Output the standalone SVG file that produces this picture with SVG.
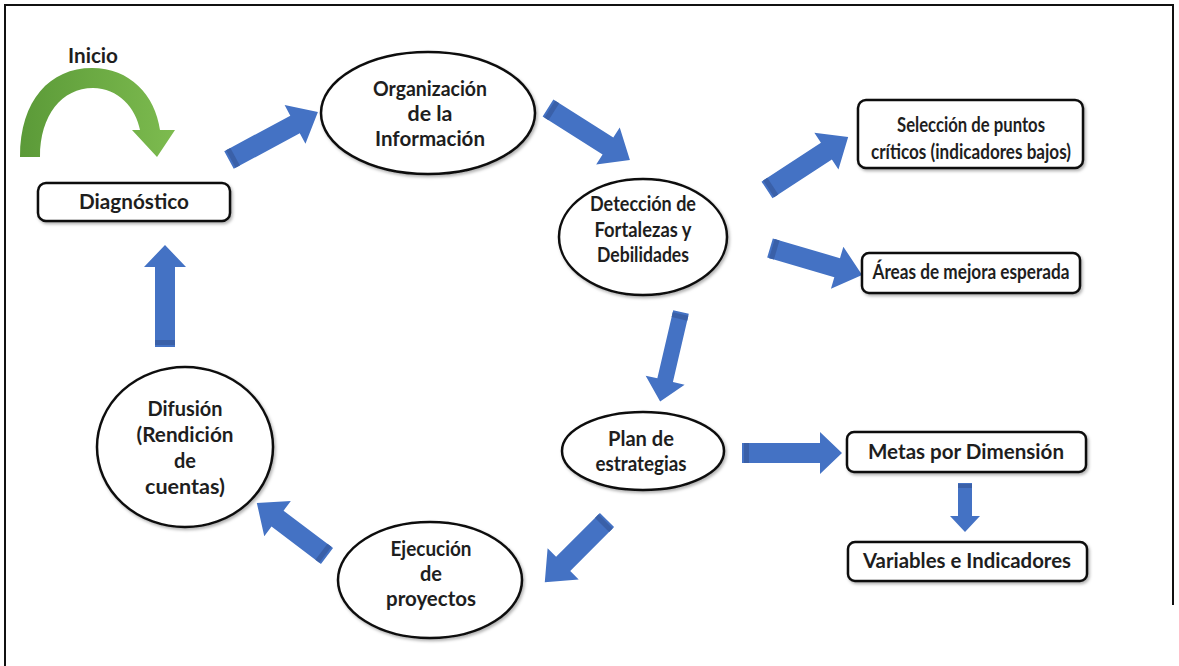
<svg xmlns="http://www.w3.org/2000/svg" width="1179" height="666" viewBox="0 0 1179 666">
<style>
.t{font-family:Lato,"Liberation Sans",sans-serif;font-weight:bold;font-size:20px;fill:#1e1e1e;text-anchor:middle}
.n{fill:#fff;stroke:#111;stroke-width:2.5}
.a{fill:#4472C4}
.d{fill:#3A60A8}
</style>
<defs>
<filter id="sh" x="-10%" y="-10%" width="120%" height="130%">
<feDropShadow dx="1.5" dy="2" stdDeviation="1.5" flood-color="#000" flood-opacity="0.3"/>
</filter>
<linearGradient id="g" x1="0" y1="0" x2="1" y2="0">
<stop offset="0" stop-color="#5B9A38"/>
<stop offset="1" stop-color="#7DBB4F"/>
</linearGradient>
</defs>
<rect width="1179" height="666" fill="#fff"/>
<path d="M5,666 V5 H1173 V605" fill="none" stroke="#111" stroke-width="2"/>

<g id="inicio">
<path d="M20,157 C20,100 50,68 92,68 C130,68 155,95 160,130 L175,130 L157,157 L132,130 L140,130 C136,108 118,88 93,88 C62,88 40,115 40,157 Z" fill="url(#g)"/>
<text class="t" x="93" y="63" textLength="50" lengthAdjust="spacingAndGlyphs">Inicio</text>
</g>

<g id="connectors">
<g transform="translate(229,160) rotate(-28.3)"><polygon class="a" points="0,-10 75,-10 75,-22 101,0 75,22 75,10 0,10"/><rect class="d" x="2" y="-10" width="5" height="20"/></g>
<g transform="translate(548,108) rotate(32.4)"><polygon class="a" points="0,-10 71,-10 71,-22 97,0 71,22 71,10 0,10"/><rect class="d" x="2" y="-10" width="5" height="20"/></g>
<g transform="translate(767,190) rotate(-33.2)"><polygon class="a" points="0,-10 71,-10 71,-22 97,0 71,22 71,10 0,10"/><rect class="d" x="2" y="-10" width="5" height="20"/></g>
<g transform="translate(770,248) rotate(16.4)"><polygon class="a" points="0,-10 70,-10 70,-22 96,0 70,22 70,10 0,10"/><rect class="d" x="2" y="-10" width="5" height="20"/></g>
<g transform="translate(681,312) rotate(103.1)"><polygon class="a" points="0,-8 70,-8 70,-20 92,0 70,20 70,8 0,8"/><rect class="d" x="2" y="-8" width="5" height="16"/></g>
<g transform="translate(742,453)"><polygon class="a" points="0,-10 78,-10 78,-21 100,0 78,21 78,10 0,10"/><rect class="d" x="2" y="-10" width="5" height="20"/></g>
<g transform="translate(965,483) rotate(90)"><polygon class="a" points="0,-7 33,-7 33,-15 49,0 33,15 33,7 0,7"/><rect class="d" x="1" y="-7" width="4" height="14"/></g>
<g transform="translate(607,520) rotate(135)"><polygon class="a" points="0,-10 62,-10 62,-22 88,0 62,22 62,10 0,10"/><rect class="d" x="2" y="-10" width="5" height="20"/></g>
<g transform="translate(327,556) rotate(-142.9)"><polygon class="a" points="0,-10 62,-10 62,-22 88,0 62,22 62,10 0,10"/><rect class="d" x="2" y="-10" width="5" height="20"/></g>
<g transform="translate(165,347) rotate(-90)"><polygon class="a" points="0,-10 80,-10 80,-21 102,0 80,21 80,10 0,10"/><rect class="d" x="2" y="-10" width="5" height="20"/></g>
</g>

<g id="diagnostico">
<rect class="n" filter="url(#sh)" x="38" y="183" width="192" height="38" rx="8"/>
<text class="t" x="134" y="209" textLength="110" lengthAdjust="spacingAndGlyphs">Diagnóstico</text>
</g>

<g id="organizacion">
<ellipse class="n" filter="url(#sh)" cx="428" cy="113" rx="107" ry="61"/>
<text class="t" x="430" y="96" textLength="114" lengthAdjust="spacingAndGlyphs">Organización</text>
<text class="t" x="430" y="121" textLength="45" lengthAdjust="spacingAndGlyphs">de la</text>
<text class="t" x="430" y="146" textLength="110" lengthAdjust="spacingAndGlyphs">Información</text>
</g>

<g id="deteccion">
<ellipse class="n" filter="url(#sh)" cx="643" cy="237" rx="84" ry="58"/>
<text class="t" x="643" y="211" textLength="106" lengthAdjust="spacingAndGlyphs">Detección de</text>
<text class="t" x="643" y="237" textLength="97" lengthAdjust="spacingAndGlyphs">Fortalezas y</text>
<text class="t" x="643" y="262" textLength="92" lengthAdjust="spacingAndGlyphs">Debilidades</text>
</g>

<g id="seleccion">
<rect class="n" filter="url(#sh)" x="858" y="100" width="225" height="68" rx="8"/>
<text class="t" x="971" y="132" textLength="148" lengthAdjust="spacingAndGlyphs">Selección de puntos</text>
<text class="t" x="971" y="159" textLength="200" lengthAdjust="spacingAndGlyphs">críticos (indicadores bajos)</text>
</g>

<g id="areas">
<rect class="n" filter="url(#sh)" x="862" y="253" width="218" height="40" rx="7"/>
<text class="t" x="971" y="279" textLength="197" lengthAdjust="spacingAndGlyphs">Áreas de mejora esperada</text>
</g>

<g id="plan">
<ellipse class="n" filter="url(#sh)" cx="643" cy="451" rx="81" ry="39"/>
<text class="t" x="641" y="446" textLength="66" lengthAdjust="spacingAndGlyphs">Plan de</text>
<text class="t" x="641" y="471" textLength="91" lengthAdjust="spacingAndGlyphs">estrategias</text>
</g>

<g id="metas">
<rect class="n" filter="url(#sh)" x="847" y="432" width="239" height="40" rx="7"/>
<text class="t" x="966" y="459" textLength="196" lengthAdjust="spacingAndGlyphs">Metas por Dimensión</text>
</g>

<g id="variables">
<rect class="n" filter="url(#sh)" x="848" y="542" width="239" height="39" rx="7"/>
<text class="t" x="967" y="568" textLength="208" lengthAdjust="spacingAndGlyphs">Variables e Indicadores</text>
</g>

<g id="difusion">
<ellipse class="n" filter="url(#sh)" cx="185" cy="447" rx="88" ry="80"/>
<text class="t" x="185" y="416" textLength="75" lengthAdjust="spacingAndGlyphs">Difusión</text>
<text class="t" x="185" y="442" textLength="97" lengthAdjust="spacingAndGlyphs">(Rendición</text>
<text class="t" x="185" y="468" textLength="22" lengthAdjust="spacingAndGlyphs">de</text>
<text class="t" x="185" y="494" textLength="80" lengthAdjust="spacingAndGlyphs">cuentas)</text>
</g>

<g id="ejecucion">
<ellipse class="n" filter="url(#sh)" cx="430" cy="580" rx="92" ry="58"/>
<text class="t" x="431" y="556" textLength="81" lengthAdjust="spacingAndGlyphs">Ejecución</text>
<text class="t" x="431" y="581" textLength="22" lengthAdjust="spacingAndGlyphs">de</text>
<text class="t" x="431" y="606" textLength="90" lengthAdjust="spacingAndGlyphs">proyectos</text>
</g>
</svg>
